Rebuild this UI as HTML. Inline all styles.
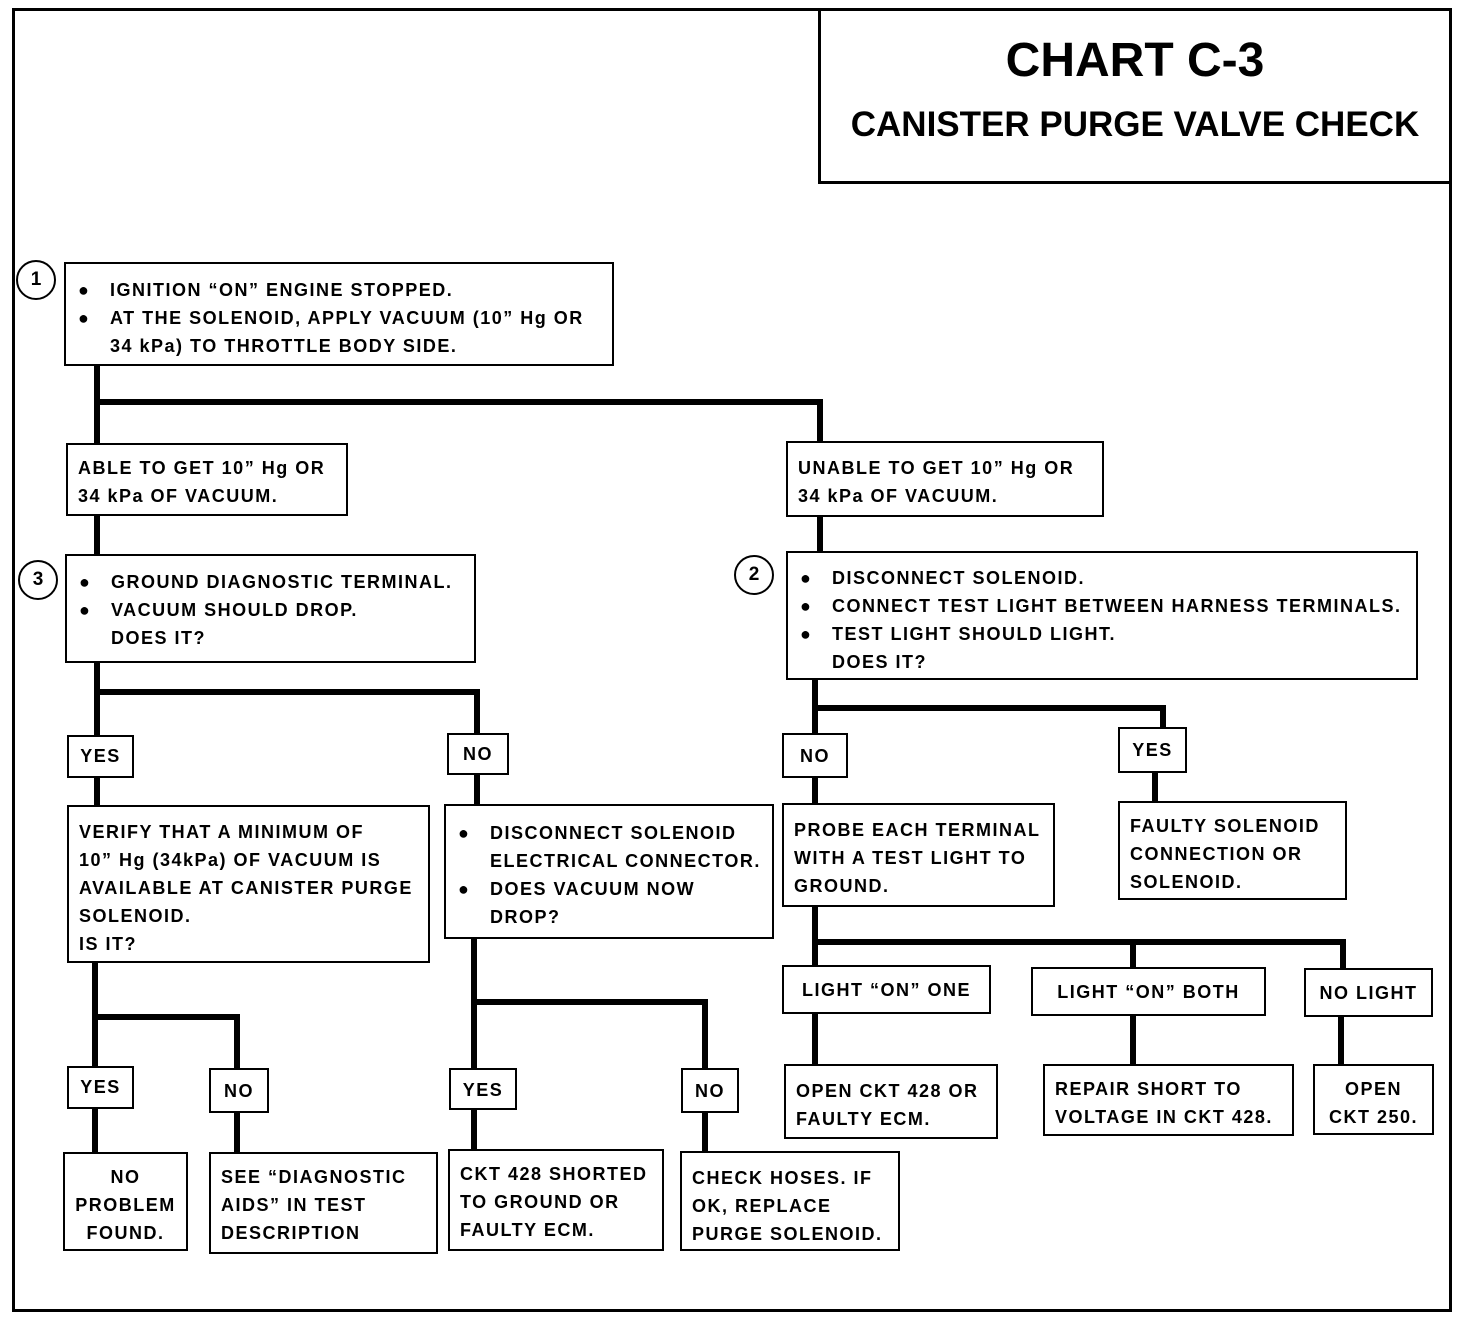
<!DOCTYPE html>
<html><head><meta charset="utf-8"><style>
body{margin:0;width:1472px;height:1340px;background:#fff;position:relative;overflow:hidden;font-family:"Liberation Sans",sans-serif;font-weight:bold;color:#000}
div{position:absolute;box-sizing:border-box}
.b{border:2.5px solid #000;background:#fff;font-size:18px;line-height:28px;padding:6px 10px;white-space:nowrap;letter-spacing:1.5px}
.l{background:#000}
.c{border:2.5px solid #000;border-radius:50%;width:40px;height:40px;text-align:center;line-height:35px;font-size:19px;background:#fff}
.ctr{text-align:center}
.ind{padding-left:44px}
.ind span{position:absolute;left:12px}
</style></head><body>
<div style="left:12px;top:8px;width:1440px;height:1304px;border:3.5px solid #000"></div>
<div style="left:818px;top:8px;width:634px;height:176px;border:3px solid #000;text-align:center">
<div style="left:0;right:0;top:22px;font-size:48px">CHART C-3</div>
<div style="left:0;right:0;top:94px;font-size:35px">CANISTER PURGE VALVE CHECK</div></div>

<!-- connectors -->
<div class="l" style="left:94px;top:365px;width:6px;height:80px"></div>
<div class="l" style="left:94px;top:399px;width:729px;height:6px"></div>
<div class="l" style="left:817px;top:399px;width:6px;height:44px"></div>
<div class="l" style="left:94px;top:515px;width:6px;height:40px"></div>
<div class="l" style="left:817px;top:515px;width:6px;height:38px"></div>
<div class="l" style="left:94px;top:662px;width:6px;height:74px"></div>
<div class="l" style="left:94px;top:689px;width:386px;height:6px"></div>
<div class="l" style="left:474px;top:689px;width:6px;height:46px"></div>
<div class="l" style="left:94px;top:776px;width:6px;height:30px"></div>
<div class="l" style="left:474px;top:773px;width:6px;height:32px"></div>
<div class="l" style="left:92px;top:962px;width:6px;height:106px"></div>
<div class="l" style="left:92px;top:1014px;width:148px;height:6px"></div>
<div class="l" style="left:234px;top:1014px;width:6px;height:56px"></div>
<div class="l" style="left:92px;top:1107px;width:6px;height:46px"></div>
<div class="l" style="left:234px;top:1110px;width:6px;height:43px"></div>
<div class="l" style="left:471px;top:938px;width:6px;height:132px"></div>
<div class="l" style="left:471px;top:999px;width:237px;height:6px"></div>
<div class="l" style="left:702px;top:999px;width:6px;height:71px"></div>
<div class="l" style="left:471px;top:1108px;width:6px;height:43px"></div>
<div class="l" style="left:702px;top:1110px;width:6px;height:43px"></div>
<div class="l" style="left:812px;top:679px;width:6px;height:56px"></div>
<div class="l" style="left:812px;top:705px;width:354px;height:6px"></div>
<div class="l" style="left:1160px;top:705px;width:6px;height:24px"></div>
<div class="l" style="left:812px;top:776px;width:6px;height:28px"></div>
<div class="l" style="left:1152px;top:771px;width:6px;height:32px"></div>
<div class="l" style="left:812px;top:906px;width:6px;height:60px"></div>
<div class="l" style="left:812px;top:939px;width:534px;height:6px"></div>
<div class="l" style="left:1130px;top:939px;width:6px;height:30px"></div>
<div class="l" style="left:1340px;top:939px;width:6px;height:31px"></div>
<div class="l" style="left:812px;top:1012px;width:6px;height:54px"></div>
<div class="l" style="left:1130px;top:1014px;width:6px;height:52px"></div>
<div class="l" style="left:1338px;top:1015px;width:6px;height:51px"></div>

<!-- boxes -->
<div class="c" style="left:16px;top:260px">1</div>
<div class="b ind" style="left:64px;top:262px;width:550px;height:104px;padding-top:12px"><span style="top:12px">●</span>IGNITION “ON” ENGINE STOPPED.<br><span style="top:40px">●</span>AT THE SOLENOID, APPLY VACUUM (10” Hg OR<br>34 kPa) TO THROTTLE BODY SIDE.</div>
<div class="b" style="left:66px;top:443px;width:282px;height:73px;padding-top:9px">ABLE TO GET 10” Hg OR<br>34 kPa OF VACUUM.</div>
<div class="b" style="left:786px;top:441px;width:318px;height:76px;padding-top:11px">UNABLE TO GET 10” Hg OR<br>34 kPa OF VACUUM.</div>
<div class="c" style="left:18px;top:560px">3</div>
<div class="b ind" style="left:65px;top:554px;width:411px;height:109px;padding-top:12px"><span style="top:12px">●</span>GROUND DIAGNOSTIC TERMINAL.<br><span style="top:40px">●</span>VACUUM SHOULD DROP.<br>DOES IT?</div>
<div class="c" style="left:734px;top:555px">2</div>
<div class="b ind" style="left:786px;top:551px;width:632px;height:129px;padding-top:11px"><span style="top:11px">●</span>DISCONNECT SOLENOID.<br><span style="top:39px">●</span>CONNECT TEST LIGHT BETWEEN HARNESS TERMINALS.<br><span style="top:67px">●</span>TEST LIGHT SHOULD LIGHT.<br>DOES IT?</div>
<div class="b ctr" style="left:67px;top:735px;width:67px;height:43px;padding:5px 0">YES</div>
<div class="b ctr" style="left:447px;top:733px;width:62px;height:42px;padding:5px 0">NO</div>
<div class="b" style="left:67px;top:805px;width:363px;height:158px;padding-top:11px">VERIFY THAT A MINIMUM OF<br>10” Hg (34kPa) OF VACUUM IS<br>AVAILABLE AT CANISTER PURGE<br>SOLENOID.<br>IS IT?</div>
<div class="b ind" style="left:444px;top:804px;width:330px;height:135px;padding-top:13px"><span style="top:13px">●</span>DISCONNECT SOLENOID<br>ELECTRICAL CONNECTOR.<br><span style="top:69px">●</span>DOES VACUUM NOW<br>DROP?</div>
<div class="b ctr" style="left:67px;top:1066px;width:67px;height:43px;padding:5px 0">YES</div>
<div class="b ctr" style="left:209px;top:1068px;width:60px;height:45px;padding:7px 0">NO</div>
<div class="b ctr" style="left:63px;top:1152px;width:125px;height:99px;padding-top:9px">NO<br>PROBLEM<br>FOUND.</div>
<div class="b" style="left:209px;top:1152px;width:229px;height:102px;padding-top:9px">SEE “DIAGNOSTIC<br>AIDS” IN TEST<br>DESCRIPTION</div>
<div class="b ctr" style="left:449px;top:1068px;width:68px;height:42px;padding:6px 0">YES</div>
<div class="b ctr" style="left:681px;top:1068px;width:58px;height:45px;padding:7px 0">NO</div>
<div class="b" style="left:448px;top:1149px;width:216px;height:102px;padding-top:9px">CKT 428 SHORTED<br>TO GROUND OR<br>FAULTY ECM.</div>
<div class="b" style="left:680px;top:1151px;width:220px;height:100px;padding-top:11px">CHECK HOSES.  IF<br>OK, REPLACE<br>PURGE SOLENOID.</div>
<div class="b ctr" style="left:782px;top:733px;width:66px;height:45px;padding:7px 0">NO</div>
<div class="b ctr" style="left:1118px;top:727px;width:69px;height:46px;padding:7px 0">YES</div>
<div class="b" style="left:782px;top:803px;width:273px;height:104px;padding-top:11px">PROBE EACH TERMINAL<br>WITH A TEST LIGHT TO<br>GROUND.</div>
<div class="b" style="left:1118px;top:801px;width:229px;height:99px;padding-top:9px">FAULTY SOLENOID<br>CONNECTION OR<br>SOLENOID.</div>
<div class="b ctr" style="left:782px;top:965px;width:209px;height:49px;padding:9px 0">LIGHT “ON” ONE</div>
<div class="b ctr" style="left:1031px;top:967px;width:235px;height:49px;padding:9px 0">LIGHT “ON” BOTH</div>
<div class="b ctr" style="left:1304px;top:968px;width:129px;height:49px;padding:9px 0">NO LIGHT</div>
<div class="b" style="left:784px;top:1064px;width:214px;height:75px;padding-top:11px">OPEN CKT 428 OR<br>FAULTY ECM.</div>
<div class="b" style="left:1043px;top:1064px;width:251px;height:72px;padding-top:9px">REPAIR SHORT TO<br>VOLTAGE IN CKT 428.</div>
<div class="b ctr" style="left:1313px;top:1064px;width:121px;height:71px;padding-top:9px">OPEN<br>CKT 250.</div>
</body></html>
